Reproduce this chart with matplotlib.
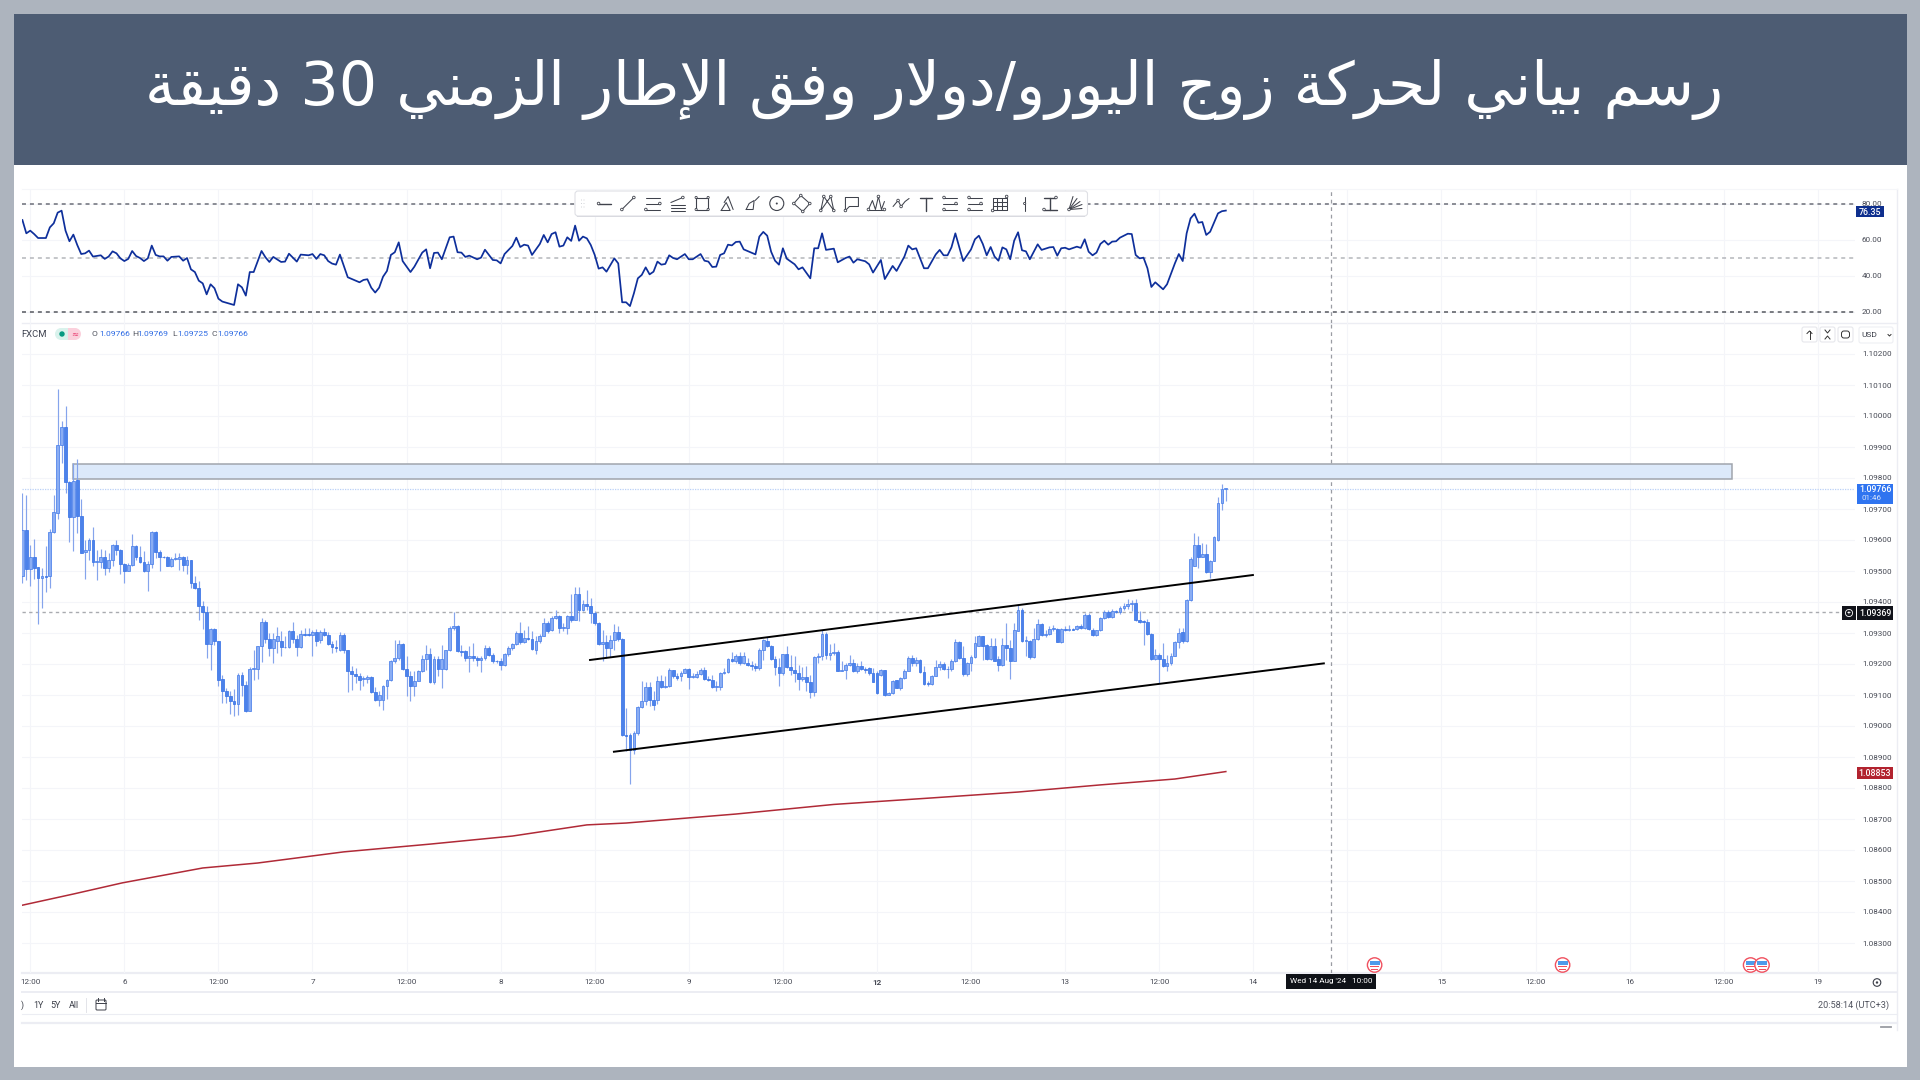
import numpy as np
import matplotlib
matplotlib.use("Agg")
import matplotlib.pyplot as plt
from matplotlib.patches import Rectangle, FancyBboxPatch, Circle

plt.rcParams['font.family'] = ['Roboto', 'DejaVu Sans']

TITLE = "رسم بياني لحركة زوج اليورو/دولار وفق الإطار الزمني 30 دقيقة"

# candle values, in points (1e-5) above 1.09000
open_pts = [485,631,506,545,512,478,483,483,626,688,
906,965,788,674,794,678,560,569,599,530,
530,545,510,534,585,567,521,500,518,580,
545,528,500,521,625,561,545,545,515,539,
539,545,518,534,461,446,388,367,266,312,
274,150,112,96,81,72,166,131,47,184,
184,257,335,281,251,273,273,254,254,308,
282,254,295,295,295,302,276,302,295,266,
254,244,295,244,179,169,160,152,152,157,
109,84,84,130,147,210,218,266,185,162,
130,146,176,216,232,141,216,184,184,244,
316,321,241,241,218,227,218,212,218,252,
229,210,210,196,232,252,266,300,270,284,
281,246,273,291,332,309,348,354,315,315,
354,343,426,375,395,388,365,332,266,270,
252,276,302,281,-28,-28,-76,-22,61,80,
127,85,83,146,125,128,182,162,162,171,
184,158,158,169,180,152,147,126,126,171,
175,216,209,225,203,203,197,192,187,246,
273,259,216,190,171,232,190,182,171,152,
158,141,111,223,225,298,230,236,240,178,
181,198,203,178,192,184,187,171,171,166,
180,101,107,147,123,155,178,219,203,212,
173,137,137,162,190,201,184,184,210,270,
219,169,203,222,259,289,261,216,257,216,
197,261,252,209,307,375,273,273,223,281,
329,295,298,313,314,271,313,309,313,313,
321,316,359,311,295,309,348,368,352,370,
367,381,388,395,397,341,337,334,298,216,
230,216,192,203,227,270,302,273,408,517,
584,545,556,496,533,601,719,765]
close_pts = [631,506,545,511,477,483,481,626,690,906,
965,788,673,791,678,559,569,599,530,533,
545,510,534,585,567,521,500,518,580,545,
528,500,521,625,561,545,544,515,540,541,
545,518,534,461,446,388,367,266,312,274,
150,112,96,81,72,166,131,47,184,185,
257,335,281,251,281,289,254,255,308,282,
254,297,294,294,302,273,302,295,266,254,
253,295,244,179,169,160,150,155,157,109,
84,99,130,147,210,218,266,185,162,130,
146,176,216,232,141,216,184,216,244,316,
321,241,240,218,227,218,212,218,252,229,
210,209,196,232,252,266,300,270,284,281,
248,273,291,332,305,348,354,316,318,354,
343,426,375,395,388,365,332,266,270,252,
276,302,281,-28,-31,-76,-22,61,80,127,
85,67,146,125,128,182,162,155,171,184,
158,162,169,180,152,147,126,128,171,175,
216,209,225,203,227,197,192,187,246,276,
259,216,190,171,232,190,182,171,152,158,
141,111,223,225,298,230,236,240,178,181,
198,203,178,192,184,182,171,142,107,180,
101,107,144,124,155,178,219,203,214,173,
137,136,162,190,201,184,183,210,270,219,
169,203,222,268,289,259,216,259,211,197,
261,252,209,311,375,275,279,223,281,329,
295,298,313,315,271,314,309,313,311,321,
316,359,313,295,309,348,368,352,370,367,
381,388,395,397,341,337,336,298,216,230,
216,192,203,227,270,300,273,408,539,584,
545,556,496,533,610,719,765,766]
high_pts = [752,745,585,604,512,510,582,635,746,1087,
985,1032,790,848,861,732,601,606,642,569,
571,567,558,587,601,571,526,526,619,585,
580,563,531,628,628,569,547,547,545,558,
558,549,547,536,483,467,404,386,316,316,
274,166,123,112,119,171,173,144,190,246,
257,348,341,300,300,319,305,289,311,335,
295,311,316,316,309,313,311,315,302,273,
278,303,300,246,192,187,171,160,166,160,
126,112,133,152,212,276,278,268,225,176,
176,180,230,262,252,225,225,261,246,321,
367,327,262,246,257,268,225,225,262,257,
236,214,219,236,257,268,305,334,311,321,
305,289,297,348,338,354,373,359,332,359,
427,450,450,408,440,413,370,334,311,295,
295,330,324,284,58,-23,-17,63,144,141,
141,112,160,166,160,187,182,171,176,187,
187,171,176,187,190,160,166,144,173,187,
219,238,232,238,238,219,209,203,252,281,
287,262,225,219,233,259,230,225,198,190,
192,166,225,236,311,302,266,268,244,209,
203,230,216,203,209,190,190,187,176,184,
182,109,150,150,158,184,225,230,222,216,
192,144,166,214,209,205,192,216,281,273,
257,205,230,291,295,291,266,284,284,225,
284,332,279,332,391,381,289,276,316,345,
332,311,321,327,316,316,321,327,316,327,
330,365,365,316,311,352,375,375,377,375,
386,397,410,408,410,370,343,345,300,248,
236,268,230,236,273,316,316,410,545,622,
612,590,588,537,612,739,782,769]
low_pts = [461,472,453,474,328,381,431,445,622,668,
848,753,592,563,622,558,474,536,515,472,
510,488,496,515,553,491,461,499,515,536,
526,496,437,510,542,499,542,515,513,536,
504,499,491,445,442,341,313,218,182,262,
130,74,74,38,33,37,96,44,47,150,
152,205,268,225,203,236,227,252,252,268,
225,252,289,289,227,257,268,289,262,236,
238,241,236,109,117,139,115,130,139,106,
80,66,51,87,144,203,212,182,96,80,
96,144,173,182,139,137,160,123,182,241,
311,238,225,209,173,209,192,173,214,225,
203,203,180,195,227,246,262,266,268,278,
244,233,268,291,300,305,345,300,305,297,
334,341,338,370,375,332,327,262,209,219,
223,246,273,-31,-82,-187,-89,-28,58,69,
63,51,72,123,123,126,155,150,144,171,
119,155,155,166,150,144,123,112,117,169,
171,205,203,198,201,192,180,176,182,214,
255,214,166,128,166,187,166,141,115,144,
112,90,96,203,214,216,214,230,176,176,
152,192,173,171,180,171,166,141,104,162,
98,100,104,123,117,153,176,192,192,171,
133,128,133,160,182,182,155,176,205,216,
162,160,176,219,257,214,214,212,209,176,
195,214,152,209,305,272,225,216,219,279,
291,287,295,305,270,268,305,305,309,311,
313,313,311,291,291,305,345,348,348,365,
362,375,377,372,338,332,262,295,214,214,
139,190,176,198,225,252,268,270,402,515,
510,545,494,477,531,598,696,725]

rsi_bar = [0,1,2,3,4,6,7,8,9,10,11,12,13,14,15,16,17,18,20,21,22,23,24,25,26,27,28,29,30,31,32,33,34,35,36,37,38,40,41,42,43,44,45,46,47,48,49,50,51,54,55,56,57,58,59,61,62,63,64,66,67,68,70,71,73,74,75,76,77,78,79,80,81,83,86,87,88,89,90,91,92,93,94,95,96,97,99,100,102,103,104,105,106,107,109,110,111,112,113,114,116,117,118,120,121,122,123,125,126,127,128,129,130,132,133,134,135,136,137,138,139,140,141,142,143,144,145,146,147,148,149,151,152,153,154,155,156,157,
158,159,160,161,162,163,164,165,166,167,169,170,171,173,174,175,176,177,178,179,180,181,182,183,184,187,188,189,190,191,192,193,194,195,197,198,199,201,202,203,204,205,207,208,210,211,212,213,215,216,217,219,220,222,223,225,226,227,228,230,231,233,234,235,236,237,238,240,242,243,244,245,246,247,248,249,250,251,252,253,254,255,256,257,259,260,262,263,264,265,266,267,269,270,271,272,273,274,275,276,277,278,279,280,282,283,284,285,286,287,288,289,291,292,294,295,296,297,298,299,300,301,302,303,305,306,307]
rsi_val = [71.1,63.7,65.2,63.3,61.1,61.1,67.0,69.3,75.2,76.3,65.2,59.3,63,57.2,52.2,52.6,54.1,50.8,51.5,49.5,50.8,53.7,52.6,49.8,48.3,49.5,53.9,51.1,50,48.3,49.8,56.9,51.7,50.9,50.9,48.5,50.6,50.9,48.5,50,43.7,42.2,37.4,35.9,29.8,35.4,33.2,27.4,25.8,23.9,35.4,33.7,29.1,42.2,42.2,53.9,50.4,47.8,50.6,47.8,48,52.4,48,51.9,51.5,52.2,49.5,52.2,51.5,48.3,46.9,46.3,51.9,39.3,36.5,37.8,38.2,33.5,30.8,33.5,39.6,42.8,51.7,53.2,58.7,48.3,42.2,45.2,53,54.8,44.3,52.8,53,49.3,61.5,61.9,53.2,53,50.6,51.3,49.3,50.2,54.6,48.9,48.7,47,52.2,56.7,61.3,56.1,57.4,56.9,51.7,57.8,62.8,58.7,63.3,64.3,56.3,56.9,61.5,59.5,68,59.6,61.9,60.9,57.2,51.7,44.1,44.8,42.4,49.8,47,25.4,25.4,23.3,30.4,38.7,
40.6,44.8,40.9,42.4,48,46.3,46.7,51.5,50,49.3,52.2,49.3,49.3,52.2,48.5,48,45,45.2,51.7,52.6,57.4,57,58.9,59.1,54.8,52,61.9,64.5,62.4,53.5,48.5,46.3,55.4,49.6,46.5,43.7,44.8,38.7,55.4,55.4,63.7,54.5,55.2,47.6,50,50.8,47.4,49.3,48.2,46.5,41.9,48.9,38.3,45.6,42.8,50.8,56.9,54.8,55.4,44.3,44.3,52,54.5,51.5,51.5,55.9,63.7,48.3,54.8,60.4,62.4,57.8,51.5,56.1,50.8,48.5,55.9,54.8,49.3,59.6,64.3,54.3,53.7,49.3,57.6,54.5,55.9,56.1,51.3,55.4,55.7,54.8,56.3,55.6,60.4,53.5,51.5,53,57.8,59.6,57.4,59.1,59.3,61.3,63.5,63.3,51.7,49.8,50.2,44.3,33.9,36.5,32.6,35.4,47,52.2,48.3,63.7,72,74.6,69.6,70,62.8,64.6,74.8,76,76.35]

ma_bar = [0,13,25.5,46,60,82,104,125,144,154,182,207,232,254,275,294,307]
ma_price = [1.08422,1.08458,1.08494,1.08542,1.08558,1.08594,1.08619,1.08645,1.08681,1.08687,1.08716,1.08747,1.08768,1.08787,1.08810,1.08829,1.08853]

price_ticks = [1.102,1.101,1.100,1.099,1.098,1.097,1.096,1.095,1.094,1.093,1.092,1.091,1.090,1.089,1.088,1.087,1.086,1.085,1.084,1.083]
rsi_ticks = [80,60,40,20]
time_labels = ['12:00','6','12:00','7','12:00','8','12:00','9','12:00','12','12:00','13','12:00','14','','15','12:00','16','12:00','19']
upper_bar, upper_price = [144.8,313.9], [1.09213,1.09487]
lower_bar, lower_price = [150.9,332.0], [1.08917,1.09202]
zone_bar, zone_price = [13.0,436.0], [1.09797,1.09845]
last_price, pos_price, ma_last, rsi_last = 1.09766, 1.09369, 1.08853, 76.35
cross_bar = 334

def shape_arabic(s):
    F = {'ر':(0xFEAD,0xFEAE),'ا':(0xFE8D,0xFE8E),'ة':(0xFE93,0xFE94),'ز':(0xFEAF,0xFEB0),'و':(0xFEED,0xFEEE),
         'د':(0xFEA9,0xFEAA),'إ':(0xFE87,0xFE88),'لا':(0xFEFB,0xFEFC),'لإ':(0xFEF9,0xFEFA),
         'س':(0xFEB1,0xFEB2,0xFEB3,0xFEB4),'م':(0xFEE1,0xFEE2,0xFEE3,0xFEE4),'ب':(0xFE8F,0xFE90,0xFE91,0xFE92),
         'ي':(0xFEF1,0xFEF2,0xFEF3,0xFEF4),'ن':(0xFEE5,0xFEE6,0xFEE7,0xFEE8),'ل':(0xFEDD,0xFEDE,0xFEDF,0xFEE0),
         'ح':(0xFEA1,0xFEA2,0xFEA3,0xFEA4),'ك':(0xFED9,0xFEDA,0xFEDB,0xFEDC),'ج':(0xFE9D,0xFE9E,0xFE9F,0xFEA0),
         'ف':(0xFED1,0xFED2,0xFED3,0xFED4),'ق':(0xFED5,0xFED6,0xFED7,0xFED8),'ط':(0xFEC1,0xFEC2,0xFEC3,0xFEC4)}
    toks, k = [], 0
    while k < len(s):
        if s[k:k+2] in F:
            toks.append(s[k:k+2]); k += 2
        else:
            toks.append(s[k]); k += 1
    out = []
    for k, t in enumerate(toks):
        if t not in F:
            out.append(t); continue
        prev = toks[k-1] if k else None
        nxt = toks[k+1] if k+1 < len(toks) else None
        jp = prev in F and len(F[prev]) == 4
        jn = nxt in F and len(F[t]) == 4
        f = F[t]
        if len(f) == 2:
            out.append(chr(f[1] if jp else f[0]))
        else:
            out.append(chr(f[3] if jp and jn else f[1] if jp else f[2] if jn else f[0]))
    runs, k = [], 0
    while k < len(out):
        if out[k].isdigit():
            j = k
            while j < len(out) and out[j].isdigit():
                j += 1
            runs.append(''.join(out[k:j])); k = j
        else:
            runs.append(out[k]); k += 1
    return ''.join(reversed(runs))

W, H = 1920, 1080
X0, X1 = 22, 1855
PX_PER_BAR = 3.92
BAR0_X = 22.4
def bar_lim():
    return (X0-BAR0_X)/PX_PER_BAR, (X1-BAR0_X)/PX_PER_BAR

fig = plt.figure(figsize=(19.2,10.8), dpi=100, facecolor='#ADB4BE')
def pane(y_top, y_bot, z):
    a = fig.add_axes([X0/W, 1-y_bot/H, (X1-X0)/W, (y_bot-y_top)/H], zorder=z)
    a.patch.set_alpha(0)
    for s in a.spines.values():
        s.set_visible(False)
    a.set_xlim(*bar_lim())
    return a
bg = fig.add_axes([0,0,1,1], zorder=0); bg.set_xlim(0,W); bg.set_ylim(H,0); bg.axis('off')
top = fig.add_axes([0,0,1,1], zorder=6); top.set_xlim(0,W); top.set_ylim(H,0); top.axis('off'); top.patch.set_alpha(0)

bg.add_patch(Rectangle((14,14),1892.5,151,fc='#4D5C73',ec='none'))
bg.add_patch(Rectangle((14,165),1892.5,901.5,fc='white',ec='none'))
bg.text(934.5,90,shape_arabic(TITLE),color='white',fontsize=43.4,ha='center',va='center',family='DejaVu Sans')
SEP = '#ECEDF3'
for y,lw in [(323,1.0),(973,1.6),(992,1.4),(1014,0.8),(1023,1.6)]:
    bg.plot([22,1897],[y,y],color=SEP,lw=lw)
bg.plot([1897,1897],[189,1030],color=SEP,lw=1.0)
bg.plot([22,1897],[189,189],color='#F5F6F9',lw=0.8)

tick_bars = [2+24*k for k in range(len(time_labels))]
GRID = '#F4F5F9'
# RSI pane
ar = pane(190,323,2)
ar.set_ylim(80-(323-204)/1.8, 80-(190-204)/1.8)
ar.set_xticks(tick_bars); ar.set_xticklabels([])
ar.set_yticks(rsi_ticks); ar.set_yticklabels([f'{v:.2f}' for v in rsi_ticks])
ar.yaxis.tick_right()
ar.tick_params(axis='both',length=0,labelsize=5.9,labelcolor='#474A55',pad=5)
ar.grid(True,color=GRID,lw=0.8)
ar.set_axisbelow(True)
for v,c in [(80,'#6b6e78'),(50,'#b4b6bb'),(20,'#55585f')]:
    ar.plot(list(bar_lim()),[v,v],color=c,lw=1.1,dashes=(2.6,2.6))
ar.plot(rsi_bar,rsi_val,color='#0E2F9B',lw=1.25,solid_joinstyle='round')

# main pane
am = pane(323,973,2)
am.set_ylim(1.102-(973-354)/31000, 1.102-(323-354)/31000)
am.set_xticks(tick_bars); am.set_xticklabels(time_labels)
for lab,t in zip(am.get_xticklabels(),time_labels):
    if t=='12':
        lab.set_fontweight('bold')
am.set_yticks(price_ticks); am.set_yticklabels([f'{p:.5f}' for p in price_ticks])
am.yaxis.tick_right()
am.tick_params(axis='both',length=0,labelsize=5.9,labelcolor='#474A55')
am.tick_params(axis='y',pad=5); am.tick_params(axis='x',pad=4.5)
for lab in am.get_yticklabels()+ar.get_yticklabels():
    lab.set_verticalalignment('center_baseline')
am.grid(True,color=GRID,lw=0.8)
am.set_axisbelow(True)

o = 1.09+np.array(open_pts)/1e5
c = 1.09+np.array(close_pts)/1e5
h = 1.09+np.array(high_pts)/1e5
l = 1.09+np.array(low_pts)/1e5
bars = np.arange(len(o))
am.vlines(bars,l,h,color='#85A4EC',lw=0.85,zorder=3)
up = c>=o
am.bar(bars[up],np.maximum(np.abs(c-o)[up],2e-5),bottom=np.minimum(o,c)[up],width=0.72,color='#8AADF3',edgecolor='#4A80EA',lw=0.55,zorder=4)
am.bar(bars[~up],np.maximum(np.abs(c-o)[~up],2e-5),bottom=np.minimum(o,c)[~up],width=0.72,color='#4C82EA',edgecolor='#3A74E6',lw=0.55,zorder=4)

am.plot(ma_bar,ma_price,color='#B02A37',lw=1.1,zorder=3)
am.add_patch(Rectangle((zone_bar[0],zone_price[0]),zone_bar[1]-zone_bar[0],zone_price[1]-zone_price[0],fc='#DCE9FA',ec='#A0A5AD',lw=1.1,zorder=2.5))
am.plot(upper_bar,upper_price,color='black',lw=1.4,zorder=5)
am.plot(lower_bar,lower_price,color='black',lw=1.4,zorder=5)
xl = bar_lim()
am.plot(list(xl),[last_price]*2,color='#BBD0F7',lw=0.9,dashes=(1,1),zorder=2)
am.plot([xl[0],(1842-BAR0_X)/PX_PER_BAR],[pos_price]*2,color='#A9ABB0',lw=1.0,dashes=(2.4,2.4),zorder=2)
for a in (am,ar):
    a.axvline(cross_bar-0.2,color='#9A9CA3',lw=0.9,dashes=(3,3),zorder=2)

# overlay
def tag(x0,x1,y0,y1,col,txt,fs=6.3,tc='white'):
    top.add_patch(Rectangle((x0,y0),x1-x0,y1-y0,fc=col,ec='none'))
    top.text((x0+x1)/2,(y0+y1)/2,txt,color=tc,fontsize=fs,ha='center',va='center_baseline',fontweight='medium')
tag(1856,1884,206,216.5,'#0E2F8E',f'{rsi_last:.2f}')
top.add_patch(Rectangle((1857,484),36,20,fc='#2F74F0',ec='none'))
top.text(1875,489.5,f'{last_price:.5f}',color='white',fontsize=6.3,ha='center',va='center',fontweight='medium')
top.text(1872,498.5,'01:46',color='#D6E4FC',fontsize=5.8,ha='center',va='center')
tag(1857,1893,606,620,'#11131A',f'{pos_price:.5f}')
top.add_patch(Rectangle((1842,606),14,14,fc='#11131A',ec='none'))
top.add_patch(Circle((1849,613),3.6,fc='none',ec='white',lw=0.6))
top.text(1849,612.8,'+',color='white',fontsize=5,ha='center',va='center')
tag(1857,1893,767,778.5,'#B2232F',f'{ma_last:.5f}')

top.text(21.5,334.5,'FXCM',color='#3F4350',fontsize=6.8,ha='left',va='center')
top.add_patch(Circle((61,334),6,fc='#D9F2EC',ec='none'))
top.add_patch(Rectangle((61,328),7,12,fc='#D9F2EC',ec='none'))
top.add_patch(Rectangle((68,328),7,12,fc='#FBD0DC',ec='none'))
top.add_patch(Circle((75,334),6,fc='#FBD0DC',ec='none'))
top.add_patch(Circle((62,334),2.7,fc='#089981',ec='none'))
top.text(74.5,334,'≈',color='#E8386D',fontsize=6,ha='center',va='center',family='DejaVu Sans')
for xk,xv,k,v in [(92,99.5,'O','1.09766'),(132,137.5,'H','1.09769'),(172,177.5,'L','1.09725'),(211.5,217,'C','1.09766')]:
    top.text(xk,334.5,k,color='#50535E',fontsize=6.1,ha='left',va='center')
    top.text(xv,334.5,v,color='#2F6CE4',fontsize=6.1,ha='left',va='center')

for x0 in (1802,1820,1838):
    top.add_patch(FancyBboxPatch((x0,327),15,15,boxstyle='round,pad=0,rounding_size=2',fc='white',ec='#E6E7EC',lw=0.8))
top.plot([1809.5,1809.5],[331,338.5],color='#333',lw=0.7)
top.plot([1807,1809.5,1812],[333.5,331,333.5],color='#333',lw=0.7)
top.plot([1825,1827.5,1830],[330,333,330],color='#333',lw=0.7)
top.plot([1825,1827.5,1830],[339,336,339],color='#333',lw=0.7)
top.add_patch(FancyBboxPatch((1841.5,331),8,7,boxstyle='round,pad=0,rounding_size=2.5',fc='none',ec='#333',lw=0.7))
top.add_patch(FancyBboxPatch((1859,327),34,16,boxstyle='round,pad=0,rounding_size=2',fc='white',ec='#EEEFF3',lw=0.8))
top.text(1861,335,'USD',color='#3A3D48',fontsize=6.0,ha='left',va='center')
top.plot([1888,1889.5,1891],[334.5,336,334.5],color='#333',lw=0.7)

# crosshair time label
top.add_patch(Rectangle((1286,974),90,15,fc='#0F1218',ec='none'))
top.text(1331,981.5,"Wed 14 Aug '24   10:00",color='white',fontsize=5.9,ha='center',va='center')

# events
for x in [1374.6,1562.6,1750.6,1762]:
    top.add_patch(Circle((x,965),7.2,fc='white',ec='#F0515F',lw=1.0))
    top.add_patch(Rectangle((x-5,961),10,3.8,fc='#4E9BEA',ec='none'))
    top.add_patch(Rectangle((x-4.5,966),9,1.1,fc='#F0515F',ec='none'))
    top.add_patch(Rectangle((x-3.5,968.6),7,1.0,fc='#F0515F',ec='none'))
top.add_patch(Circle((1877,982.5),3.8,fc='none',ec='#3C3F49',lw=0.8))
top.add_patch(Circle((1877,982.5),1.2,fc='#3C3F49',ec='none'))

for x,t in [(22,')'),(38,'1Y'),(55,'5Y'),(73.5,'All')]:
    top.text(x,1005,t,color='#3C3F49',fontsize=6.4,ha='center',va='center')
top.plot([86,86],[998,1012],color='#E3E4E9',lw=0.7)
top.add_patch(FancyBboxPatch((96,1000),10,10,boxstyle='round,pad=0,rounding_size=1',fc='none',ec='#3C3F49',lw=0.7))
top.plot([96,106],[1003,1003],color='#3C3F49',lw=0.7)
top.plot([98,98],[998,1001],color='#3C3F49',lw=0.7)
top.plot([104,104],[998,1001],color='#3C3F49',lw=0.7)
top.text(1889.6,1005,'20:58:14 (UTC+3)',color='#50535E',fontsize=6.6,ha='right',va='center')
top.plot([1881,1891],[1027,1027],color='#9A9CA3',lw=1.3)

# drawing toolbar
top.add_patch(FancyBboxPatch((575,191),512.5,25,boxstyle='round,pad=0,rounding_size=3',fc='white',ec='#DFE0E5',lw=0.8))
top.add_patch(Rectangle((577,215.5),508,1.5,fc='#D9DAE0',ec='none'))
I = '#3F424C'
def ln(xs,ys,lw=0.75):
    top.plot(xs,ys,color=I,lw=lw,solid_capstyle='round')
def dot(x,y,r=1.3):
    top.add_patch(Circle((x,y),r,fc='white',ec=I,lw=0.6,zorder=8))
for gx in (581.5,584):
    for gy in (200,203.5,207):
        top.add_patch(Circle((gx,gy),0.5,fc='#C8CAD0',ec='none'))
xs = [560+z/2.8 for z in (122,190,260,330,398,468,538,607,677,747,816,886,955,1025,1092,1162,1231,1301,1372,1442)]
Y = 203.5
ln([xs[0]-6,xs[0]+7],[Y,Y],1.0); dot(xs[0]-5,Y)
ln([xs[1]-6,xs[1]+6],[Y+6,Y-6]); dot(xs[1]-6,Y+6); dot(xs[1]+6,Y-6)
for dy in (-6,0,6):
    ln([xs[2]-7,xs[2]+7],[Y+dy,Y+dy])
dot(xs[2]+7,Y); dot(xs[2]-7,Y+6)
for dy in (2,5,8):
    ln([xs[3]-7,xs[3]+7],[Y+dy-1,Y+dy-1])
ln([xs[3]-7,xs[3]+5],[Y-1,Y-6]); dot(xs[3]+5,Y-6)
top.add_patch(Rectangle((xs[4]-6,Y-6),12,12,fc='none',ec=I,lw=0.8))
for a_,b_ in [(-6,-6),(6,-6),(-6,6),(6,6)]:
    dot(xs[4]+a_,Y+b_,1.1)
ln([xs[5]-3,xs[5]+1,xs[5]+6],[Y-1,Y-7,Y+6]); ln([xs[5]-6,xs[5]+3,xs[5]-1,xs[5]-6],[Y+7,Y+7,Y-1,Y+7])
ln([xs[6]-6,xs[6]-3,xs[6]+2,xs[6]+1,xs[6]-6],[Y+6,Y,Y-3,Y+6,Y+6]); ln([xs[6]+3,xs[6]+7],[Y-3,Y-7])
top.add_patch(Circle((xs[7],Y),7,fc='none',ec=I,lw=0.8)); top.add_patch(Circle((xs[7],Y),1,fc=I,ec='none'))
ln([xs[8]-8,xs[8]-1,xs[8]+8,xs[8]+1,xs[8]-8],[Y,Y-8,Y,Y+8,Y]); dot(xs[8]-8,Y);dot(xs[8]-1,Y-8);dot(xs[8]+8,Y);dot(xs[8]+1,Y+8)
ln([xs[9]-6,xs[9]-3,xs[9]+7,xs[9]+4,xs[9]-6],[Y+7,Y-7,Y+7,Y-7,Y+7]); dot(xs[9]-3,Y-7);dot(xs[9]+4,Y-7);dot(xs[9]-6,Y+7);dot(xs[9]+7,Y+7)
ln([xs[10]-6,xs[10]-6,xs[10]+7,xs[10]+7,xs[10]-2,xs[10]-6],[Y+7,Y-6,Y-6,Y+3,Y+3,Y+7]); dot(xs[10]-6,Y+7)
ln([xs[11]-8,xs[11]-4,xs[11]-1,xs[11]+2,xs[11]+5,xs[11]+8],[Y+6,Y-3,Y+6,Y-7,Y+6,Y-2])
ln([xs[11]-8,xs[11]+8],[Y+6,Y+6]);dot(xs[11]-8,Y+6);dot(xs[11]+8,Y+6);dot(xs[11]+2,Y-7)
ln([xs[12]-8,xs[12]-3,xs[12],xs[12]+4,xs[12]+8],[Y+3,Y-3,Y+3,Y-2,Y-5]);dot(xs[12]-3,Y-3);dot(xs[12],Y+3)
ln([xs[13]-6,xs[13]+6],[Y-6,Y-6],1.0); ln([xs[13],xs[13]],[Y-6,Y+7],1.0)
for q in (14,15):
    for dy in (-6,0,6):
        ln([xs[q]-7,xs[q]+7],[Y+dy,Y+dy])
    dot(xs[q]-6,Y-6);dot(xs[q]+6,Y);dot(xs[q]-6,Y+6)
for dy in (-6,-2,2,6):
    ln([xs[16]-7,xs[16]+7],[Y+dy,Y+dy])
for dx in (-7,-2.3,2.3,7):
    ln([xs[16]+dx,xs[16]+dx],[Y-6,Y+6])
dot(xs[16]+7,Y-7);dot(xs[16]-7,Y+7)
ln([xs[17],xs[17]],[Y-7,Y+7]);dot(xs[17],Y,1.1)
ln([xs[18]-6,xs[18]+5],[Y-6,Y-6],1.0);ln([xs[18],xs[18]],[Y-6,Y+6],1.0);ln([xs[18]-6,xs[18]+7],[Y+6,Y+6],1.0);dot(xs[18]+6,Y-6);dot(xs[18]-6,Y+6)
for ex,ey in [(-2,-7),(2,-5),(5,-2),(7,1),(7,5)]:
    ln([xs[19]-6,xs[19]+ex],[Y+6,Y+ey])
dot(xs[19]-6,Y+6)

fig.savefig('out.png',dpi=100,facecolor=fig.get_facecolor())
